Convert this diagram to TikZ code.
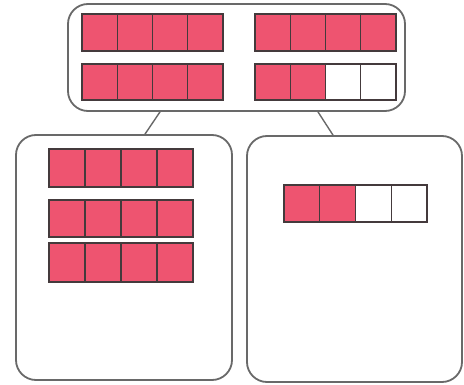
\documentclass[tikz,border=0pt]{standalone}
\usetikzlibrary{calc}
\definecolor{pinkfill}{RGB}{238,84,112}
\definecolor{cellline}{RGB}{68,58,60}
\definecolor{boxline}{RGB}{105,105,105}
\tikzset{
  groupbox/.style={draw=boxline, line width=1.8pt, rounded corners=20pt, fill=white, inner sep=0pt},
  cellbase/.style={draw=cellline, line width=1.3pt},
  link/.style={draw=boxline, line width=1.4pt}
}
% x, y, width, height, number filled
\newcommand\fourbar[5]{%
  \foreach \i in {0,...,3}{%
    \ifnum\i<#5\relax\def\fc{pinkfill}\else\def\fc{white}\fi
    \draw[cellbase, fill=\fc] ({#1+\i*#3/4},#2) rectangle ++({#3/4},#4);
  }%
}
\begin{document}
\begin{tikzpicture}[x=1pt,y=-1pt]
  \useasboundingbox (0,0) rectangle (464,385);
  \node[groupbox, minimum width=337pt, minimum height=107pt] (top) at (236.5,57.5) {};
  \node[groupbox, minimum width=216pt, minimum height=245pt] (left) at (124,257.5) {};
  \node[groupbox, minimum width=215pt, minimum height=246pt] (right) at (354.5,259) {};
  \draw[link] ($(top.south)+(-76.5,0)$) -- ($(left.north)+(21,0)$);
  \draw[link] ($(top.south)+(81.5,0)$) -- ($(right.north)+(-21.5,0)$);
  % top box bars
  \fourbar{82}{14}{141}{37}{4}
  \fourbar{255}{14}{141}{37}{4}
  \fourbar{82}{64}{141}{36}{4}
  \fourbar{255}{64}{141}{36}{2}
  % left box bars
  \fourbar{49}{149}{144}{38}{4}
  \fourbar{49}{200}{144}{37}{4}
  \fourbar{49}{243}{144}{39}{4}
  % right box bar
  \fourbar{284}{185}{143}{37}{2}
\end{tikzpicture}
\end{document}
